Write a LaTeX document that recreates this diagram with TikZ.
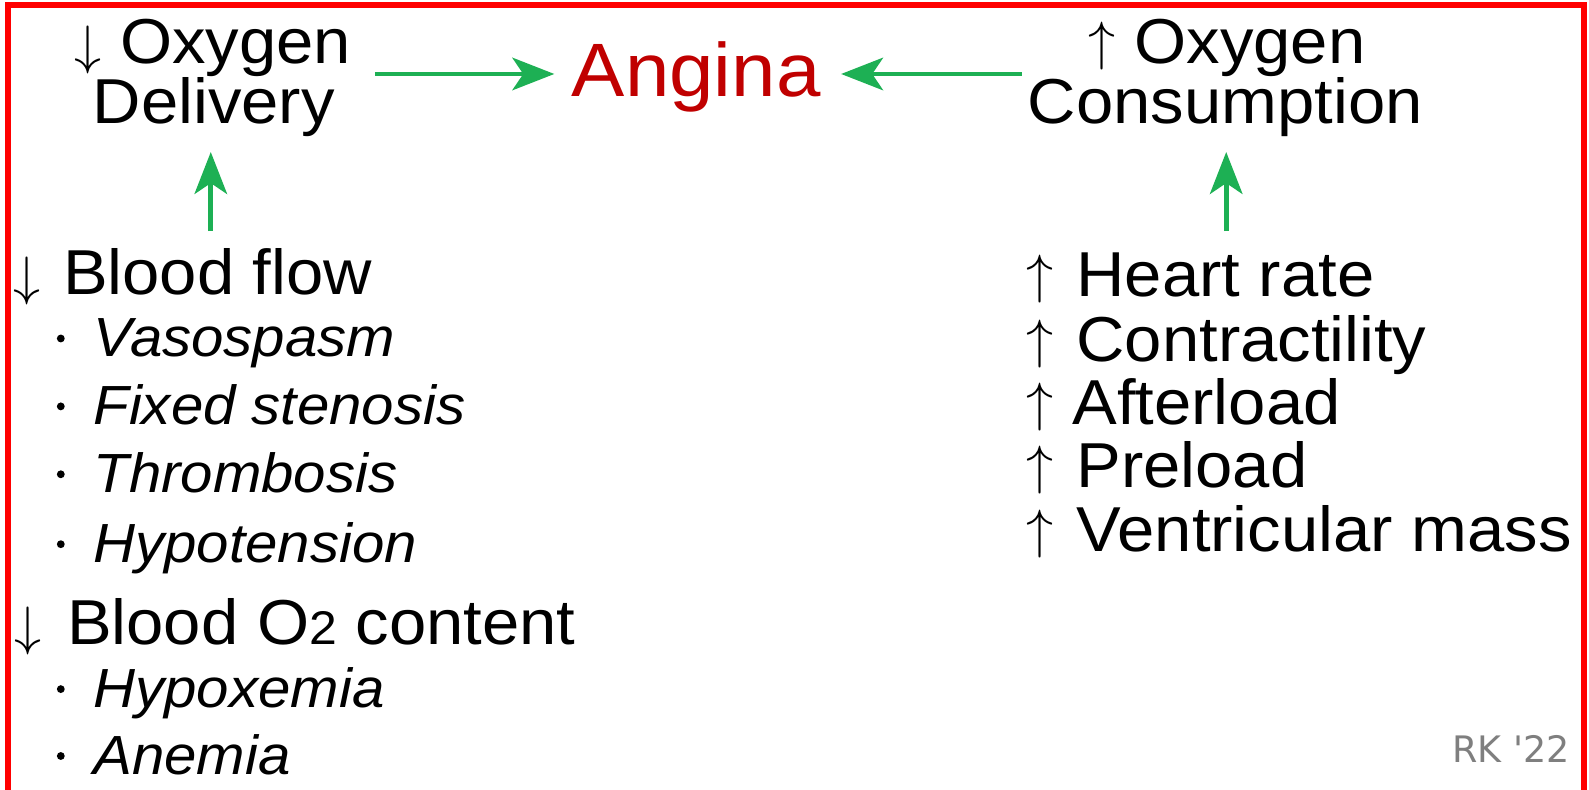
\documentclass[tikz,border=0pt]{standalone}
\usepackage{graphicx}
\usepackage{fontspec}
\setmainfont{Liberation Sans}[FakeStretch=1.055]
\newfontfamily\rkfont{DejaVu Sans}
\usetikzlibrary{arrows.meta}
\definecolor{agreen}{RGB}{29,176,84}
\definecolor{angred}{RGB}{192,0,0}
\definecolor{rkgray}{RGB}{127,127,127}
\newcommand\myDown{{\fontsize{10}{12}\selectfont\scalebox{4}{$\downarrow$}}}
\newcommand\myUp{{\fontsize{10}{12}\selectfont\raisebox{3pt}{\scalebox{4}{$\uparrow$}}}}
\begin{document}
\begin{tikzpicture}[x=0.75pt,y=-0.75pt,
  main/.style={font=\fontsize{47}{54}\selectfont, inner sep=0pt, anchor=base west},
  head/.style={font=\fontsize{47}{54}\selectfont, inner sep=0pt, anchor=base},
  itemtxt/.style={font=\fontsize{40.8}{48}\selectfont\itshape, inner sep=0pt, anchor=base west},
  bul/.style={circle, fill=black, inner sep=0pt, minimum size=5.8pt},
  garrow/.style={draw=agreen, line width=3.6pt, -{Stealth[length=31pt, width=24pt, inset=8pt]}}
]
\useasboundingbox (0,0) rectangle (1568,779);
\fill[white] (0,0) rectangle (1568,779);
\draw[red, line width=4.5pt] (8,5) rectangle (1563,800);

% headings
\node[head] (dl1) at (210,63) {\myDown\ Oxygen};
\node[head] (dl2) at (211,122) {Delivery};
\node[head, font=\fontsize{56}{60}\selectfont, text=angred] (ang) at (687,95) {Angina};
\node[head] (cs1) at (1211,63) {\myUp\ Oxygen};
\node[head] (cs2) at (1209,122) {Consumption};

\coordinate (la1) at (370,73);
\coordinate (la2) at (547,73);
\coordinate (ra1) at (1008,73);
\coordinate (ra2) at (830,73);
\draw[garrow] (la1) -- (la2);
\draw[garrow] (ra1) -- (ra2);

% left list
\node[main] (bfa) at (13,291) {\myDown};
\node[main] (bf) at (62,291) {Blood flow};
\node[bul] (b1) at (60,334) {};
\node[itemtxt] (i1) at (92,352) {Vasospasm};
\node[bul] (b2) at (60,401) {};
\node[itemtxt] (i2) at (92,419) {Fixed stenosis};
\node[bul] (b3) at (60,468) {};
\node[itemtxt] (i3) at (92,486) {Thrombosis};
\node[bul] (b4) at (60,537) {};
\node[itemtxt] (i4) at (92,555) {Hypotension};
\node[main] (boa) at (14,636) {\myDown};
\node[main] (bo) at (66,636) {Blood O{\fontsize{35}{40}\selectfont 2} content};
\node[bul] (b5) at (60,680) {};
\node[itemtxt] (i5) at (92,698) {Hypoxemia};
\node[bul] (b6) at (60,746) {};
\node[itemtxt] (i6) at (92,764) {Anemia};

\coordinate (lv1) at (208,228);
\coordinate (lv2) at (208,150);
\draw[garrow] (lv1) -- (lv2);

% right list
\node[main] (hra) at (1013,293) {\myUp};
\node[main] (hr) at (1062,293) {Heart rate};
\node[main] (cta) at (1013,357) {\myUp};
\node[main] (ct) at (1062,357) {Contractility};
\node[main] (ala) at (1013,419) {\myUp};
\node[main] (al) at (1058,419) {Afterload};
\node[main] (pla) at (1013,481) {\myUp};
\node[main] (pl) at (1062,481) {Preload};
\node[main] (vma) at (1013,544) {\myUp};
\node[main] (vm) at (1062,544) {Ventricular mass};

\coordinate (rv1) at (1210,228);
\coordinate (rv2) at (1210,150);
\draw[garrow] (rv1) -- (rv2);

\node[inner sep=0pt, anchor=base east, text=rkgray, font=\rkfont\fontsize{27}{30}\selectfont] (rk) at (1549,752) {RK '22};
\end{tikzpicture}
\end{document}
